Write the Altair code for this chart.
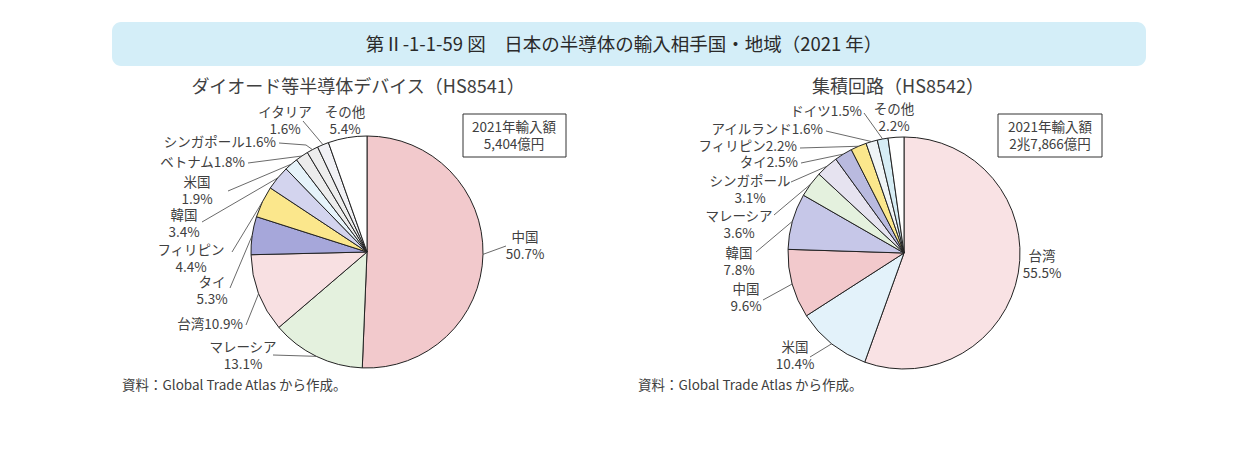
import math
import altair as alt
import pandas as pd

FONT = "Noto Sans CJK JP"
TXT = "#404040"

# ---------------- data ----------------
title_text = "第Ⅱ-1-1-59 図　日本の半導体の輸入相手国・地域（2021 年）"
left_title = "ダイオード等半導体デバイス（HS8541）"
right_title = "集積回路（HS8542）"
source_text = "資料：Global Trade Atlas から作成。"

left_names = ["中国", "マレーシア", "台湾", "タイ", "フィリピン", "韓国", "米国",
              "ベトナム", "シンガポール", "イタリア", "その他"]
left_values = [50.7, 13.1, 10.9, 5.3, 4.4, 3.4, 1.9, 1.8, 1.6, 1.6, 5.4]
left_box = ["2021年輸入額", "5,404億円"]

right_names = ["台湾", "米国", "中国", "韓国", "マレーシア", "シンガポール", "タイ",
               "フィリピン", "アイルランド", "ドイツ", "その他"]
right_values = [55.5, 10.4, 9.6, 7.8, 3.6, 3.1, 2.5, 2.2, 1.6, 1.5, 2.2]
right_box = ["2021年輸入額", "2兆7,866億円"]

# ---------------- styles (pattern tints) ----------------
left_colors = ["#f2c9cc", "#e4f1de", "#f8e0e2", "#a6a7da", "#fbe78c", "#d3d4ee",
               "#e6f3fa", "#ececec", "#ededed", "#f1f1f5", "#ffffff"]
right_colors = ["#f9e2e4", "#e3f2fa", "#f2c9cc", "#c6c7e8", "#e4f1de", "#e6e3f0",
                "#b9badf", "#fbe78c", "#eff4f6", "#d6edf5", "#ffffff"]

# ---------------- layout ----------------
R = 116
LEFT_C = (367, 252)
RIGHT_C = (904, 253)
LINE_H = 16.5
LABEL_SIZE = 13.5
TOP_SHIFT = 0.49 * LABEL_SIZE   # centre of first line -> 'top' anchor
# name -> (x, y of first line centre, align, two_lines, leader start, elbow)
left_layout = {
    "中国": (525, 238, "center", True, (506, 246), None),
    "マレーシア": (243, 348, "center", True, (273, 355), None),
    "台湾": (243, 325, "right", False, (246, 325), None),
    "タイ": (212, 283, "center", True, (230, 288), None),
    "フィリピン": (191, 251, "center", True, (232, 252), None),
    "韓国": (184, 216, "center", True, (202, 222), None),
    "米国": (197, 183, "center", True, (228, 191), None),
    "ベトナム": (245, 163, "right", False, (248, 163), None),
    "シンガポール": (276, 143, "right", False, (279, 143), (306, 145)),
    "イタリア": (285, 113, "center", True, (303, 121), None),
    "その他": (345, 113, "center", True, None, None),
}
right_layout = {
    "台湾": (1042, 257, "center", True, None, None),
    "米国": (795, 348, "center", True, (810, 357), None),
    "中国": (746, 290, "center", True, (763, 300), None),
    "韓国": (739, 254, "center", True, (756, 252), None),
    "マレーシア": (739, 217, "center", True, (774, 215), None),
    "シンガポール": (750, 182, "center", True, (791, 182), None),
    "タイ": (798, 163, "right", False, (801, 163), None),
    "フィリピン": (797, 147, "right", False, (800, 148), None),
    "アイルランド": (823, 130, "right", False, (826, 131), None),
    "ドイツ": (862, 112, "right", False, (864, 113), None),
    "その他": (894, 110, "center", True, None, None),
}


def build(names, values, colors, layout, center):
    total = sum(values)
    pie = pd.DataFrame({"name": names, "value": values, "color": colors,
                        "order": list(range(len(names)))})
    texts, leaders = [], []
    cum = 0.0
    for i, (n, v) in enumerate(zip(names, values)):
        a = 2 * math.pi * (cum + v / 2) / total
        cum += v
        px = center[0] + R * math.sin(a)
        py = center[1] - R * math.cos(a)
        x, y, align, two, start, elbow = layout[n]
        t = f"{n}\n{v:.1f}%" if two else f"{n}{v:.1f}%"
        texts.append({"x": x, "y": y - TOP_SHIFT, "t": t, "align": align})
        if start is not None:
            pts = [start] + ([elbow] if elbow else []) + [(px, py)]
            for j, (qx, qy) in enumerate(pts):
                leaders.append({"id": f"{center[0]}-{i}", "s": j, "x": qx, "y": qy})
    return pie, pd.DataFrame(texts), pd.DataFrame(leaders)


lp, lt, ll = build(left_names, left_values, left_colors, left_layout, LEFT_C)
rp, rt, rl = build(right_names, right_values, right_colors, right_layout, RIGHT_C)

XS = alt.Scale(domain=[0, 1241], zero=False, nice=False)
YS = alt.Scale(domain=[0, 467], zero=False, nice=False, reverse=True)
one = pd.DataFrame({"a": [0]})


def pie_layer(df, center):
    return alt.Chart(df).mark_arc(outerRadius=R, stroke="#222", strokeWidth=1).encode(
        theta=alt.Theta("value:Q", stack=True, scale=alt.Scale(type="linear")),
        order=alt.Order("order:Q"),
        color=alt.Color("color:N", scale=None, legend=None),
        x=alt.value(center[0]), y=alt.value(center[1]),
    )


def text_layer(df):
    layers = []
    for al in ["left", "center", "right"]:
        sub = df[df["align"] == al]
        if len(sub) == 0:
            continue
        layers.append(alt.Chart(sub).mark_text(
            font=FONT, fontSize=LABEL_SIZE, color=TXT, align=al, baseline="top",
            lineBreak="\n", lineHeight=LINE_H).encode(
            x=alt.X("x:Q", scale=XS, axis=None),
            y=alt.Y("y:Q", scale=YS, axis=None),
            text="t:N"))
    return layers


def leader_layer(df):
    return alt.Chart(df).mark_line(color="#444", strokeWidth=0.8).encode(
        x=alt.X("x:Q", scale=XS, axis=None),
        y=alt.Y("y:Q", scale=YS, axis=None),
        detail="id:N", order="s:Q")


banner = alt.Chart(one).mark_rect(cornerRadius=9, color="#d4eef8").encode(
    x=alt.value(112), x2=alt.value(1146), y=alt.value(22), y2=alt.value(66))
banner_text = alt.Chart(one).mark_text(font=FONT, fontSize=18.5, color="#2a2a2a",
                                       align="center", baseline="middle").encode(
    x=alt.value(624), y=alt.value(45), text=alt.value(title_text))


def simple_text(t, x, y, size, align="center"):
    return alt.Chart(one).mark_text(font=FONT, fontSize=size, color=TXT,
                                    align=align, baseline="middle").encode(
        x=alt.value(x), y=alt.value(y), text=alt.value(t))


def box_text(lines, x, y_first, size):
    return alt.Chart(one).mark_text(font=FONT, fontSize=size, color=TXT,
                                    align="center", baseline="top",
                                    lineBreak="\n", lineHeight=17).encode(
        x=alt.value(x), y=alt.value(y_first - 0.49 * size),
        text=alt.value("\n".join(lines)))


def box(x0, x1, y0, y1):
    return alt.Chart(one).mark_rect(fill="white", stroke="#333", strokeWidth=1).encode(
        x=alt.value(x0), x2=alt.value(x1), y=alt.value(y0), y2=alt.value(y1))


layers = [banner, banner_text,
          simple_text(left_title, 358, 88, 18),
          simple_text(right_title, 898, 88, 18),
          pie_layer(lp, LEFT_C), pie_layer(rp, RIGHT_C),
          leader_layer(ll), leader_layer(rl)]
layers += text_layer(lt) + text_layer(rt)
layers += [box(463, 566, 114, 157), box_text(left_box, 514, 128, 13.5),
           box(998, 1102, 114, 157), box_text(right_box, 1050, 128, 13.5),
           simple_text(source_text, 122, 386, 13.5, "left"),
           simple_text(source_text, 638, 386, 13.5, "left")]

chart = alt.layer(*layers).resolve_scale(theta="independent").properties(
    width=1241, height=467, autosize=alt.AutoSizeParams(type="none"), padding=0,
    background="white"
).configure_view(stroke=None)

chart.save("out.html", embed_options={"renderer": "svg", "actions": False})
